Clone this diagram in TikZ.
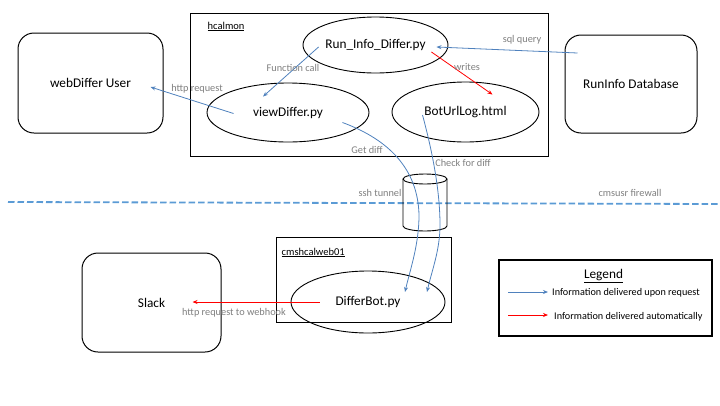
\documentclass[tikz,border=0pt]{standalone}
\usepackage{fontspec}
\setmainfont{Carlito}
\usetikzlibrary{shapes.geometric,calc,arrows.meta}

\definecolor{linkblue}{HTML}{4F81BD}
\definecolor{fwblue}{HTML}{5B9BD5}
\definecolor{labelgray}{HTML}{7F7F7F}
\definecolor{autored}{HTML}{FF0000}

\tikzset{
  main/.style={font=\fontsize{13.3}{15}\selectfont},
  rbox/.style={main, draw, line width=1pt, rounded corners=16pt, inner sep=0pt},
  hostbox/.style={draw, line width=1pt, inner sep=0pt},
  proc/.style={main, draw, ellipse, line width=0.9pt, inner sep=0pt},
  lbl/.style={text=labelgray, font=\fontsize{10.3}{12}\selectfont, inner sep=0pt},
  hostlbl/.style={font=\fontsize{10.5}{12}\selectfont, inner sep=0pt, anchor=west},
  tip/.style={-{Stealth[length=5pt,width=4pt]}},
  req/.style={tip, draw=linkblue, line width=0.8pt},
  auto/.style={tip, draw=autored, line width=0.8pt},
  legtxt/.style={font=\fontsize{10.2}{12}\selectfont, inner sep=0pt, anchor=west},
}

\begin{document}
\begin{tikzpicture}[x=1pt,y=-1pt]
\useasboundingbox (0,0) rectangle (720,405);

% outer actors
\node[rbox, minimum width=145pt, minimum height=100pt] (user) at (90.5,83) {webDiffer User};
\node[rbox, minimum width=132pt, minimum height=98pt] (db) at (631,84) {RunInfo Database};
\node[rbox, minimum width=139pt, minimum height=99pt] (slack) at (151.5,302.5) {Slack};

% hcalmon host
\node[hostbox, minimum width=358pt, minimum height=143pt] (hcal) at (369,84.5) {};
\node[hostlbl] (hcallbl) at ($(hcal.north west)+(18,14)$) {\underline{hcalmon}};
\node[proc, minimum width=145pt, minimum height=56pt] (rid) at (375.5,45) {Run\_Info\_Differ.py};
\node[proc, minimum width=162pt, minimum height=59pt] (vd) at (288,112.5) {viewDiffer.py};
\node[proc, minimum width=147pt, minimum height=60pt] (bot) at (465.5,112) {BotUrlLog.html};

% cmshcalweb01 host
\node[hostbox, minimum width=175pt, minimum height=85pt] (web) at (363.5,279.5) {};
\node[hostlbl] (weblbl) at ($(web.north west)+(6,16)$) {\underline{cmshcalweb01}};
\node[proc, minimum width=154pt, minimum height=62pt] (dbot) at (368,302) {DifferBot.py};

% firewall line
\coordinate (fwL) at (8,202);
\coordinate (fwR) at (720,204);
\draw[fwblue, line width=1.8pt, dash pattern=on 6.5pt off 3pt] (fwL) -- (fwR);
\node[lbl] (fwlbl) at (630,193) {cmsusr firewall};

% ssh tunnel cylinder
\coordinate (cyl) at (425,179);
\draw[line width=0.9pt] ($(cyl)+(-22,0)$) -- ($(cyl)+(-22,47)$)
  arc[start angle=180, end angle=360, x radius=22pt, y radius=5pt]
  -- ($(cyl)+(22,0)$);
\draw[line width=0.9pt] (cyl) ellipse[x radius=22pt, y radius=5pt];
\node[lbl] (sshlbl) at (380,193) {ssh tunnel};

% requests (blue)
\draw[req] ($(db.west)+(13,-31)$) -- ($(rid.east)+(-12,2)$);
\node[lbl] (sqllbl) at (522,40) {sql query};

\draw[req] ($(rid.west)+(16,2)$) -- ($(vd.north)+(-25,14)$);
\node[lbl] (fclbl) at (293,68) {Function call};

\draw[req] ($(vd.west)+(27,1)$) -- ($(user.east)+(-13,4)$);
\node[lbl] (httplbl) at (197,89) {http request};

\draw[req] ($(vd.east)+(-27,10)$) .. controls (390,140) and (418,170) .. (419,215)
  .. controls (419,245) and (410,270) .. ($(dbot.center)+(37,-10)$);
\node[lbl] (getlbl) at (367,150) {Get diff};

\draw[req] ($(bot.center)+(-43,3)$) .. controls (432,150) and (440,190) .. (440,225)
  .. controls (440,250) and (432,270) .. ($(dbot.center)+(59,-10)$);
\node[lbl] (chklbl) at (463,163) {Check for diff};

% automatic deliveries (red)
\draw[auto] ($(rid.east)+(-17,7)$) -- ($(bot.north)+(27,13)$);
\node[lbl] (wrlbl) at (467,67) {writes};

\draw[auto] ($(dbot.west)+(29,0)$) -- ($(slack.east)+(-29,-0.5)$);
\node[lbl] (hooklbl) at (234,313) {http request to webhook};

% legend
\node[draw, line width=2pt, minimum width=213pt, minimum height=76pt, inner sep=0pt] (leg) at (605.5,298) {};
\node[main, inner sep=0pt] (legtitle) at ($(leg.north)+(-2,17)$) {\underline{Legend}};
\draw[req] ($(leg.west)+(10,-6)$) -- ($(leg.west)+(50,-6)$);
\node[legtxt] (leg1) at ($(leg.west)+(54,-5)$) {Information delivered upon request};
\draw[auto] ($(leg.west)+(10,17)$) -- ($(leg.west)+(50,17)$);
\node[legtxt] (leg2) at ($(leg.west)+(56,19)$) {Information delivered automatically};
\end{tikzpicture}
\end{document}
